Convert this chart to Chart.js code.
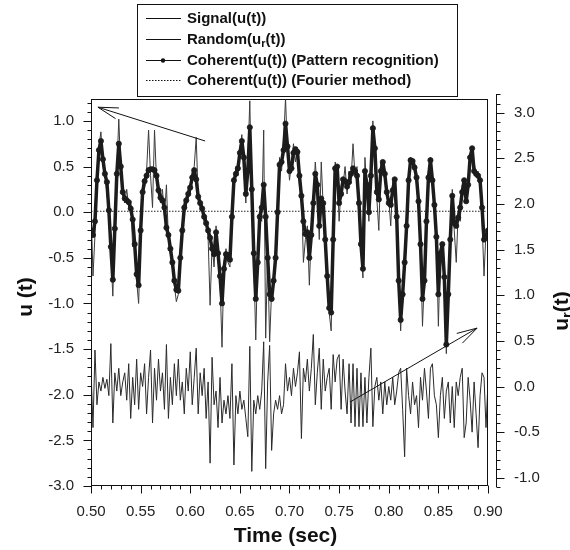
<!DOCTYPE html>
<html>
<head>
<meta charset="utf-8">
<script src="https://cdn.jsdelivr.net/npm/chart.js@4/dist/chart.umd.min.js"></script>
<style>
  body { margin: 0; background: #fff; }
</style>
</head>
<body>
<canvas id="chart" width="570" height="550"></canvas>
<script>
// sampling of the records (seconds)
const t0 = 0.5;
const dt = 0.002;

// coherent part found by pattern recognition, u(t)
const coherentU = [
  -0.20, -0.25, -0.10, 0.35, 0.68, 0.78, 0.58, 0.42, 0.33, 0.02,
  -0.38, -0.74, -0.18, 0.42, 0.75, 0.50, 0.22, 0.15, 0.13, 0.11,
  0.04, -0.08, -0.35, -0.68, -0.80, -0.20, 0.22, 0.34, 0.40, 0.46,
  0.47, 0.47, 0.46, 0.40, 0.24, 0.16, 0.13, 0.05, -0.17, -0.25,
  -0.40, -0.55, -0.75, -0.85, -0.86, -0.50, -0.20, 0.05, 0.13, 0.20,
  0.27, 0.38, 0.46, 0.36, 0.17, 0.10, 0.04, -0.05, -0.12, -0.20,
  -0.28, -0.40, -0.46, -0.22, -0.45, -0.70, -1.00, -0.62, -0.46, -0.47,
  -0.52, -0.05, 0.35, 0.42, 0.48, 0.65, 0.78, 0.60, 0.20, 0.45,
  0.93, 0.25, -0.45, -0.95, -0.55, -0.05, 0.05, 0.30, -0.05, -0.50,
  -0.90, -0.95, -0.75, -0.50, 0.00, 0.52, 0.55, 0.68, 0.97, 0.72,
  0.45, 0.48, 0.65, 0.69, 0.66, 0.40, 0.18, -0.10, -0.24, -0.22,
  -0.50, -0.25, 0.10, 0.42, 0.30, -0.15, 0.15, 0.10, -0.30, -0.70,
  -1.05, -1.10, -0.30, 0.48, 0.50, 0.10, 0.20, 0.36, 0.34, 0.28,
  0.33, 0.42, 0.48, 0.45, 0.40, 0.10, -0.35, -0.62, 0.45, 0.30,
  0.00, 0.40, 0.92, 0.70, 0.22, 0.14, 0.45, 0.55, 0.42, 0.22,
  0.10, 0.08, 0.24, 0.36, -0.05, -0.75, -1.18, -0.90, -0.55, -0.15,
  0.35, 0.57, 0.56, 0.49, 0.38, 0.12, -0.35, -0.95, -0.75, -0.10,
  0.38, 0.57, 0.35, 0.08, -0.27, -0.90, -0.45, -0.35, -0.71, -1.45,
  -0.90, -0.30, 0.18, -0.12, -0.15, -0.06, 0.05, 0.22, 0.35, 0.12,
  0.30, 0.60, 0.70, 0.45, 0.42, 0.40, 0.35, 0.05, -0.30, -0.28,
  -0.20
];

// measured signal u(t)
const signalU = [
  0.08, -0.70, -0.25, 0.30, 0.72, 0.88, 0.50, 0.45, 0.20, 0.05,
  -0.45, -0.92, -0.10, 0.45, 1.02, 0.45, 0.20, 0.10, 0.25, 0.05,
  0.12, -0.38, -0.30, -0.75, -1.00, -0.25, 0.30, 0.28, 0.45, 0.90,
  0.40, 0.05, 0.90, 0.35, 0.30, 0.10, 0.25, -0.05, 0.30, -0.30,
  -0.45, -0.60, -0.80, -0.98, -0.90, -0.40, -0.25, 0.12, 0.05, 0.28,
  0.20, 0.45, 0.50, 0.82, 0.15, 0.05, 0.08, -0.10, -0.05, -0.28,
  -1.02, -0.35, -0.60, -0.15, -0.50, -0.75, -1.48, -0.55, -0.40, -0.55,
  -0.60, 0.05, 0.30, 0.50, 0.40, 0.70, 0.85, 0.45, 0.10, 0.55,
  1.22, 0.10, -0.50, -1.40, -0.45, 0.00, -0.10, 0.90, -1.38, -0.45,
  -1.42, -0.85, -0.80, -0.40, 0.05, 0.60, 0.45, 0.75, 1.25, 0.65,
  0.35, 0.55, 0.75, 0.55, 0.70, 0.30, 0.25, -0.55, -0.30, -0.15,
  -0.80, -0.20, 0.15, 0.55, 0.25, -0.30, 0.55, 0.05, -0.35, -0.75,
  -1.10, -1.30, -0.20, 0.55, 0.45, -0.10, 0.30, 0.30, 0.50, 0.20,
  0.45, 0.35, 0.75, 0.40, 0.50, 0.05, -0.40, -0.72, 0.60, 0.25,
  -0.10, 0.50, 1.00, 0.60, 0.15, -0.20, 0.55, 0.50, 0.35, 0.25,
  0.15, -0.15, 0.35, 0.30, -0.10, -0.80, -1.30, -0.80, -0.60, -0.10,
  0.40, 0.60, 0.50, 0.55, 0.30, 0.05, -0.40, -1.25, -0.70, 0.00,
  0.35, 0.60, 0.30, 0.15, -0.30, -1.25, -0.40, -0.50, -0.75, -1.55,
  -0.85, -0.40, 0.25, -0.20, -0.55, 0.00, -0.10, 0.30, 0.30, 0.15,
  0.35, 0.65, 0.60, 0.55, 0.40, 0.45, 0.30, -0.10, -0.70, -0.20,
  -0.25
];

// random part u_r(t), right axis
const randomU = [
  0.20, -0.45, 0.40, -0.20, 0.05, -0.05, 0.10, -0.02, 0.08, -0.10,
  0.47, -0.40, 0.15, -0.05, 0.20, -0.10, 0.05, 0.15, -0.15, 0.25,
  -0.35, 0.10, -0.20, 0.30, -0.25, 0.15, 0.00, 0.25, -0.30, 0.10,
  0.40, -0.40, 0.20, -0.15, 0.30, -0.05, 0.15, -0.25, 0.46, -0.35,
  0.10, -0.20, 0.25, -0.10, 0.30, -0.15, 0.05, -0.30, 0.20, -0.05,
  0.38, -0.20, 0.10, 0.42, -0.30, 0.15, -0.10, 0.20, -0.35, 0.05,
  -0.84, 0.32, -0.20, -0.05, -0.45, 0.10, -0.40, -0.15, -0.30, -0.10,
  -0.35, 0.25, -0.86, -0.10, -0.30, -0.05, -0.25, -0.15, -0.35, -0.55,
  0.44, -0.93, -0.15, -0.30, -0.10, -0.25, -0.05, 0.49, -0.90, 0.05,
  0.45, -0.70, -0.30, -0.15, -0.25, -0.10, -0.30, -0.20, 0.25, -0.05,
  0.10, -0.10, 0.20, 0.00, 0.15, 0.38, -0.57, 0.20, 0.05, 0.30,
  -0.05, 0.20, 0.57, -0.20, 0.15, 0.42, -0.25, 0.30, -0.05, 0.10,
  0.20, -0.25, 0.35, 0.05, 0.30, 0.35, -0.25, 0.30, -0.05, -0.30,
  0.25, -0.40, 0.25, -0.44, 0.20, -0.44, 0.15, -0.44, 0.10, -0.40,
  0.10, 0.42, -0.44, 0.00, 0.10, -0.15, 0.05, -0.30, 0.05, -0.20,
  0.00, -0.15, 0.10, -0.20, -0.05, 0.15, 0.20, -0.25, -0.77, 0.20,
  -0.10, -0.30, 0.05, -0.20, -0.10, -0.45, 0.10, -0.15, 0.20, -0.05,
  -0.35, 0.20, 0.25, -0.10, -0.20, -0.56, -0.10, 0.10, -0.35, -0.05,
  0.05, -0.40, 0.00, -0.45, 0.05, -0.10, 0.10, 0.20, -0.56, -0.40,
  0.10, -0.15, -0.50, 0.05, -0.30, -0.67, -0.10, 0.15, 0.10, -0.45,
  0.05
];

// coherent part from the Fourier method
const fourierT = [0.5, 0.9];
const fourierU = [0.01, 0.01];

// tick labels
const timeTicks = [0.50, 0.55, 0.60, 0.65, 0.70, 0.75, 0.80, 0.85, 0.90];
const uTicks = [-3.0, -2.5, -2.0, -1.5, -1.0, -0.5, 0.0, 0.5, 1.0];
const urTicks = [-1.0, -0.5, 0.0, 0.5, 1.0, 1.5, 2.0, 2.5, 3.0];

const time = coherentU.map((_, i) => +(t0 + i * dt).toFixed(3));
const pts = (xs, ys) => ys.map((v, i) => ({ x: xs[i], y: v }));

const FONT = '"Liberation Sans", Arial, Helvetica, sans-serif';
const INK = '#111';

// text runs with optional subscripts
function runWidth(ctx, runs, size, subSize) {
  let w = 0;
  for (const [txt, sub] of runs) {
    ctx.font = 'bold ' + (sub ? subSize : size) + 'px ' + FONT;
    w += ctx.measureText(txt).width;
  }
  return w;
}
function drawRuns(ctx, runs, x, y, size, subSize, drop) {
  for (const [txt, sub] of runs) {
    ctx.font = 'bold ' + (sub ? subSize : size) + 'px ' + FONT;
    ctx.fillText(txt, x, sub ? y + drop : y);
    x += ctx.measureText(txt).width;
  }
}

function arrow(ctx, x0, y0, x1, y1) {
  const ang = Math.atan2(y0 - y1, x0 - x1);
  ctx.beginPath();
  ctx.moveTo(x0, y0);
  ctx.lineTo(x1, y1);
  for (const d of [-0.27, 0.27]) {
    ctx.moveTo(x1, y1);
    ctx.lineTo(x1 + 21 * Math.cos(ang + d), y1 + 21 * Math.sin(ang + d));
  }
  ctx.stroke();
}

const legendRows = [
  { runs: [['Signal(u(t))', false]], dot: false, dash: [] },
  { runs: [['Random(u', false], ['r', true], ['(t))', false]], dot: false, dash: [] },
  { runs: [['Coherent(u(t)) (Pattern recognition)', false]], dot: true, dash: [] },
  { runs: [['Coherent(u(t)) (Fourier method)', false]], dot: false, dash: [1.5, 1.5] }
];

const decor = {
  id: 'decor',
  afterDraw(chart) {
    const { ctx, chartArea: a, scales } = chart;
    const x = scales.x, u = scales.u, ur = scales.ur;
    const L = Math.round(a.left) + 0.5, R = Math.round(a.right) - 0.5;
    const T = Math.round(a.top) + 0.5, B = Math.round(a.bottom) - 0.5;
    ctx.save();
    ctx.strokeStyle = INK;
    ctx.lineWidth = 1;
    ctx.setLineDash([]);

    // plot frame
    ctx.strokeRect(L, T, R - L, B - T);

    ctx.beginPath();
    // left axis ticks, outward
    for (let k = -30; k <= 12; k++) {
      const py = Math.round(u.getPixelForValue(k / 10)) + 0.5;
      ctx.moveTo(L, py);
      ctx.lineTo(L - (k % 5 === 0 ? 8 : 4), py);
    }
    // bottom axis ticks
    for (let k = 50; k <= 90; k++) {
      const px = Math.round(x.getPixelForValue(k / 100)) + 0.5;
      ctx.moveTo(px, B);
      ctx.lineTo(px, B + (k % 5 === 0 ? 8 : 4));
    }
    // detached right axis for u_r
    const RX = R + 9;
    ctx.moveTo(RX, Math.round(ur.getPixelForValue(3.2)));
    ctx.lineTo(RX, Math.round(ur.getPixelForValue(-1.1)));
    for (let k = -11; k <= 32; k++) {
      const py = Math.round(ur.getPixelForValue(k / 10)) + 0.5;
      ctx.moveTo(RX, py);
      ctx.lineTo(RX + (k % 5 === 0 ? 8 : 4), py);
    }
    ctx.stroke();

    // arrows pointing to the axis each curve belongs to
    arrow(ctx, x.getPixelForValue(0.615), u.getPixelForValue(0.78),
      x.getPixelForValue(0.507), u.getPixelForValue(1.15));
    arrow(ctx, x.getPixelForValue(0.761), ur.getPixelForValue(-0.17),
      x.getPixelForValue(0.889), ur.getPixelForValue(0.64));

    // axis titles
    ctx.fillStyle = INK;
    ctx.textBaseline = 'middle';
    ctx.textAlign = 'center';
    ctx.font = 'bold 21px ' + FONT;
    ctx.fillText('Time (sec)', (a.left + a.right) / 2 - 4, 536);

    ctx.save();
    ctx.translate(26, 297);
    ctx.rotate(-Math.PI / 2);
    ctx.fillText('u (t)', 0, 0);
    ctx.restore();

    ctx.save();
    ctx.translate(562, 311);
    ctx.rotate(-Math.PI / 2);
    ctx.textAlign = 'left';
    const tr = [['u', false], ['r', true], ['(t)', false]];
    drawRuns(ctx, tr, -runWidth(ctx, tr, 21, 15) / 2, 0, 21, 15, 6);
    ctx.restore();

    // legend box
    ctx.fillStyle = '#fff';
    ctx.fillRect(137.5, 4.5, 320, 92);
    ctx.strokeRect(137.5, 4.5, 320, 92);
    ctx.textAlign = 'left';
    ctx.fillStyle = INK;
    const rowY = [18, 39, 60, 80];
    legendRows.forEach((row, i) => {
      const y = rowY[i] + 0.5;
      ctx.setLineDash(row.dash);
      ctx.beginPath();
      ctx.moveTo(146, y);
      ctx.lineTo(181, y);
      ctx.stroke();
      ctx.setLineDash([]);
      if (row.dot) {
        ctx.beginPath();
        ctx.arc(163, y, 2.2, 0, Math.PI * 2);
        ctx.fill();
      }
      drawRuns(ctx, row.runs, 187, y, 15, 11, 4);
    });
    ctx.restore();
  }
};

const tickFont = { family: FONT, size: 15 };

new Chart(document.getElementById('chart'), {
  type: 'line',
  data: {
    datasets: [
      {
        label: 'Coherent(u(t)) (Pattern recognition)',
        data: pts(time, coherentU),
        yAxisID: 'u',
        order: 0,
        borderColor: '#1c1c1c',
        borderWidth: 3.5,
        borderJoinStyle: 'round',
        borderCapStyle: 'round',
        pointRadius: 2.6,
        pointBorderWidth: 0.8,
        pointBackgroundColor: '#1c1c1c',
        pointBorderColor: '#1c1c1c'
      },
      {
        label: 'Coherent(u(t)) (Fourier method)',
        data: pts(fourierT, fourierU),
        yAxisID: 'u',
        order: 1,
        borderColor: '#222',
        borderWidth: 1,
        borderDash: [1.5, 1.5],
        pointRadius: 0
      },
      {
        label: 'Signal(u(t))',
        data: pts(time, signalU),
        yAxisID: 'u',
        order: 2,
        borderColor: '#3a3a3a',
        borderWidth: 1,
        pointRadius: 0
      },
      {
        label: 'Random(ur(t))',
        data: pts(time, randomU),
        yAxisID: 'ur',
        order: 3,
        borderColor: '#2a2a2a',
        borderWidth: 1,
        pointRadius: 0
      }
    ]
  },
  options: {
    responsive: false,
    animation: false,
    devicePixelRatio: 1,
    layout: { padding: { top: 99, left: 0, right: 0, bottom: 0 } },
    plugins: { legend: { display: false }, tooltip: { enabled: false } },
    elements: { line: { tension: 0 } },
    scales: {
      x: {
        type: 'linear',
        min: 0.5,
        max: 0.9,
        afterBuildTicks: s => { s.ticks = timeTicks.map(v => ({ value: v })); },
        afterFit: s => { s.height = 64; },
        grid: { display: false, drawTicks: false },
        border: { display: false },
        ticks: {
          autoSkip: false, maxRotation: 0, padding: 17,
          color: '#222', font: tickFont,
          callback: v => v.toFixed(2)
        }
      },
      u: {
        type: 'linear',
        position: 'left',
        min: -3.0,
        max: 1.24,
        afterBuildTicks: s => { s.ticks = uTicks.map(v => ({ value: v })); },
        afterFit: s => { s.width = 91; },
        grid: { display: false, drawTicks: false },
        border: { display: false },
        ticks: { padding: 17, color: '#222', font: tickFont, callback: v => v.toFixed(1) }
      },
      ur: {
        type: 'linear',
        position: 'right',
        min: -1.09,
        max: 3.15,
        afterBuildTicks: s => { s.ticks = urTicks.map(v => ({ value: v })); },
        afterFit: s => { s.width = 82; },
        grid: { display: false, drawTicks: false },
        border: { display: false },
        ticks: { padding: 26, color: '#222', font: tickFont, callback: v => v.toFixed(1) }
      }
    }
  },
  plugins: [decor]
});
</script>
</body>
</html>
